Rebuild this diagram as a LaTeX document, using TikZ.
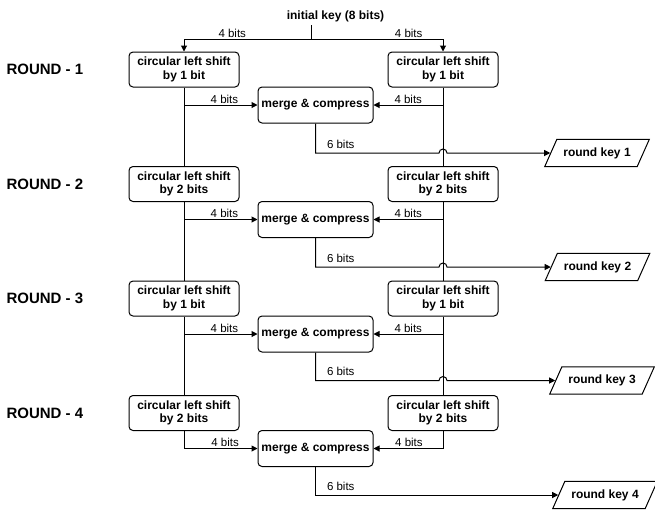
\documentclass[tikz,border=0pt]{standalone}
\usepackage{fontspec}
\setmainfont{Liberation Sans}
\usetikzlibrary{arrows.meta,shapes.geometric,calc,positioning}

\begin{document}
\begin{tikzpicture}[x=1pt, y=-1pt, line width=1pt,
    every node/.style={font=\fontsize{12}{13.5}\selectfont\bfseries},
    shiftbox/.style={draw, rounded corners=4pt, minimum width=110pt, minimum height=35pt, align=center, inner sep=0pt},
    mergebox/.style={draw, rounded corners=4pt, minimum width=115pt, minimum height=36pt, inner sep=0pt},
    keybox/.style={draw, trapezium, trapezium left angle=66, trapezium right angle=114, inner xsep=6.5pt, inner ysep=8pt},
    roundlab/.style={font=\fontsize{15}{18}\selectfont\bfseries, anchor=west, inner sep=0pt},
    bits/.style={font=\fontsize{11.5}{13}\selectfont, inner sep=1pt},
    arr/.style={-{Triangle[length=6pt,width=6pt]}}]
    \useasboundingbox (0,0) rectangle (655,523);
    % Cle initiale
    \node (init) at (335.5,16) {initial key (8 bits)};
    \coordinate (split) at (311,39);
    \draw (init.south -| split) -- (split);

    % Round 1
    \node[roundlab] (lab1) at (6,69.5) {ROUND - 1};
    \node[shiftbox] (L1) at (184,69.5) {circular left shift\\by 1 bit};
    \node[shiftbox] (R1) at (443,69.5) {circular left shift\\by 1 bit};
    \node[mergebox] (M1) at (315.5,105) {merge \& compress};
    \node[keybox] (K1) at (597,153) {round key 1};
    \draw[arr] (split) -| node[bits, above, pos=0.31] {4 bits} (L1.north);
    \draw[arr] (split) -| node[bits, above, pos=0.37] {4 bits} (R1.north);
    \draw[arr] (L1.south |- M1.west) -- node[bits, above, pos=0.55] {4 bits} (M1.west);
    \draw[arr] (R1.south |- M1.east) -- node[bits, above] {4 bits} (M1.east);
    \draw[arr] (M1.south) |- ($(R1.south |- K1.west)+(-4pt,0)$) arc (180:0:4pt) -- (K1.west);
    \node[bits, above right=3pt and 10pt] (b1) at (M1.south |- K1.west) {6 bits};

    % Round 2
    \node[roundlab] (lab2) at (6,184) {ROUND - 2};
    \node[shiftbox] (L2) at (184,184) {circular left shift\\by 2 bits};
    \node[shiftbox] (R2) at (443,184) {circular left shift\\by 2 bits};
    \node[mergebox] (M2) at (315.5,219.5) {merge \& compress};
    \node[keybox] (K2) at (597.5,267) {round key 2};
    \draw (L1.south) -- (L2.north);
    \draw (R1.south) -- (R2.north);
    \draw[arr] (L2.south |- M2.west) -- node[bits, above, pos=0.55] {4 bits} (M2.west);
    \draw[arr] (R2.south |- M2.east) -- node[bits, above] {4 bits} (M2.east);
    \draw[arr] (M2.south) |- ($(R2.south |- K2.west)+(-4pt,0)$) arc (180:0:4pt) -- (K2.west);
    \node[bits, above right=3pt and 10pt] (b2) at (M2.south |- K2.west) {6 bits};

    % Round 3
    \node[roundlab] (lab3) at (6,298.5) {ROUND - 3};
    \node[shiftbox] (L3) at (184,298.5) {circular left shift\\by 1 bit};
    \node[shiftbox] (R3) at (443,298.5) {circular left shift\\by 1 bit};
    \node[mergebox] (M3) at (315.5,334) {merge \& compress};
    \node[keybox] (K3) at (602,380.5) {round key 3};
    \draw (L2.south) -- (L3.north);
    \draw (R2.south) -- (R3.north);
    \draw[arr] (L3.south |- M3.west) -- node[bits, above, pos=0.55] {4 bits} (M3.west);
    \draw[arr] (R3.south |- M3.east) -- node[bits, above] {4 bits} (M3.east);
    \draw[arr] (M3.south) |- ($(R3.south |- K3.west)+(-4pt,0)$) arc (180:0:4pt) -- (K3.west);
    \node[bits, above right=3pt and 10pt] (b3) at (M3.south |- K3.west) {6 bits};

    % Round 4
    \node[roundlab] (lab4) at (6,413) {ROUND - 4};
    \node[shiftbox] (L4) at (184,413) {circular left shift\\by 2 bits};
    \node[shiftbox] (R4) at (443,413) {circular left shift\\by 2 bits};
    \node[mergebox] (M4) at (315.5,448.5) {merge \& compress};
    \node[keybox] (K4) at (605,495) {round key 4};
    \draw (L3.south) -- (L4.north);
    \draw (R3.south) -- (R4.north);
    \draw[arr] (L4.south) |- node[bits, above, pos=0.78] {4 bits} (M4.west);
    \draw[arr] (R4.south) |- node[bits, above, pos=0.745] {4 bits} (M4.east);
    \draw[arr] (M4.south) |- (K4.west);
    \node[bits, above right=3pt and 10pt] (b4) at (M4.south |- K4.west) {6 bits};
\end{tikzpicture}
\end{document}
